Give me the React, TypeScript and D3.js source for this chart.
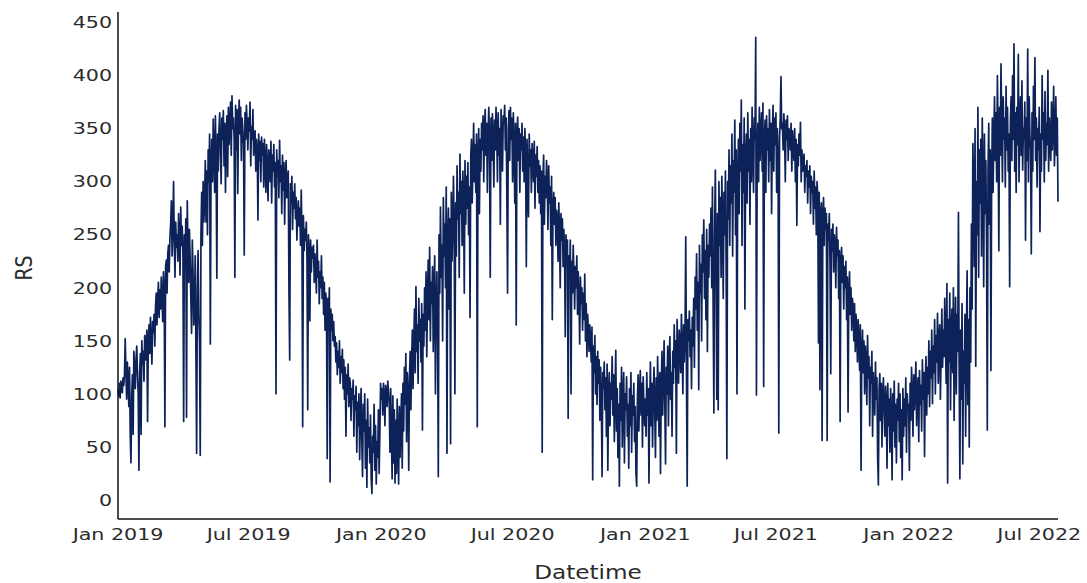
import React from "react";
import * as d3 from "d3";

// Daily RS readings, one array per calendar year (first value = 1 January).
const rs2019 = [
  104, 98, 110, 96, 112, 106, 101, 115, 108, 118,
  152, 120, 95, 130, 112, 88, 125, 60, 35, 98,
  118, 62, 140, 125, 105, 132, 145, 118, 100, 28,
  120, 138, 62, 150, 128, 140, 112, 155, 132, 145,
  160, 74, 148, 165, 138, 172, 150, 128, 168, 158,
  175, 145, 182, 195, 165, 188, 205, 172, 198, 180,
  210, 190, 168, 215, 200, 69, 220, 226, 195, 232,
  240, 215, 248, 260, 282, 230, 255, 300, 245, 210,
  262, 238, 250, 225, 270, 248, 212, 276, 240, 258,
  232, 74, 250, 218, 265, 78, 282, 235, 205, 255,
  228, 190, 157, 245, 215, 165, 180, 230, 140, 44,
  200, 235, 175, 150, 42, 250, 290, 240, 300, 262,
  280, 320, 262, 310, 250, 330, 300, 345, 147, 318,
  340, 300, 359, 330, 290, 362, 320, 209, 345, 310,
  350, 365, 330, 298, 360, 340, 367, 315, 355, 290,
  345, 362, 305, 370, 335, 355, 375, 325, 381, 350,
  360, 340, 210, 372, 330, 368, 289, 355, 377, 345,
  370, 320, 360, 350, 335, 231, 365, 340, 372, 355,
  330, 360, 348, 375, 315, 352, 340, 368, 325, 345,
  348, 310, 340, 330, 264, 345, 320, 338, 300, 342,
  325, 336, 295, 340, 318, 290, 335, 310, 282, 330,
  322, 300, 338, 280, 325, 310, 335, 295, 318, 100,
  330, 305, 320, 285, 339, 300, 315, 270, 325, 292,
  318, 260, 305, 320, 285, 300, 310, 195, 132, 298,
  280, 305, 255, 290, 275, 298, 265, 285, 245, 270,
  282, 258, 275, 240, 292, 250, 69, 268, 235, 255,
  245, 262, 225, 85, 250, 232, 169, 245, 215, 238,
  228, 240, 205, 232, 218, 195, 245, 210, 225, 185,
  215, 200, 230, 190, 210, 175, 205, 160, 195, 185,
  39, 190, 170, 200, 17, 180, 160, 175, 150, 168,
  145, 154, 130, 148, 118, 140, 125, 150, 110, 135,
  120, 142, 105, 132, 95, 125, 60, 118, 100, 128,
  88, 115, 110, 75, 105, 95, 113, 60, 98, 85,
  107, 45, 92, 70, 100, 38, 80, 105, 55, 22,
  90, 65, 100, 30, 75, 12, 95, 50, 68, 35,
  80, 20, 6, 60, 45, 90, 28, 70, 15, 55,
  40, 85, 25, 65, 110,
];

const rs2020 = [
  95, 105, 80, 110, 98, 70, 108, 100, 88, 112,
  102, 90, 45, 105, 60, 20, 98, 35, 85, 16,
  75, 25, 95, 50, 15, 88, 40, 70, 100, 30,
  110, 65, 125, 90, 138, 55, 120, 100, 28, 115,
  140, 85, 130, 160, 105, 150, 180, 120, 201, 140,
  165, 110, 190, 150, 170, 130, 185, 66, 175, 145,
  200, 160, 215, 135, 190, 226, 170, 238, 150, 205,
  185, 220, 140, 198, 230, 100, 180, 215, 160, 22,
  250, 195, 276, 210, 240, 150, 285, 230, 260, 200,
  295, 44, 245, 275, 180, 265, 53, 290, 225, 255,
  305, 250, 100, 280, 230, 315, 265, 290, 210, 326,
  270, 300, 240, 310, 285, 195, 320, 260, 305, 275,
  318, 250, 295, 172, 325, 340, 280, 315, 355, 300,
  335, 290, 345, 69, 320, 350, 270, 340, 310, 355,
  330, 362, 300, 350, 368, 325, 355, 290, 345, 370,
  335, 210, 360, 320, 364, 340, 295, 358, 330, 370,
  345, 300, 365, 325, 350, 260, 368, 340, 310, 362,
  355, 372, 330, 360, 290, 195, 350, 367, 320, 370,
  340, 360, 300, 365, 335, 280, 355, 165, 345, 361,
  320, 350, 290, 345, 330, 355, 310, 342, 300, 350,
  325, 220, 340, 300, 267, 345, 315, 330, 290, 336,
  320, 300, 338, 275, 325, 305, 333, 290, 320, 280,
  315, 270, 310, 45, 300, 325, 260, 305, 285, 320,
  300, 255, 315, 280, 295, 240, 305, 170, 275, 290,
  260, 285, 240, 273, 265, 225, 280, 250, 200, 270,
  245, 265, 220, 255, 235, 154, 250, 225, 245, 77,
  230, 210, 245, 100, 225, 195, 240, 213, 180, 220,
  200, 230, 175, 215, 190, 147, 210, 185, 200, 160,
  195, 170, 213, 150, 185, 135, 175, 160, 140, 165,
  150, 130, 163, 19, 145, 120, 155, 100, 135, 90,
  140, 110, 132, 75, 125, 95, 22, 120, 105, 130,
  85, 115, 60, 128, 28, 100, 120, 70, 110, 95,
  135, 80, 118, 55, 100, 141, 65, 105, 40, 90,
  13, 110, 75, 125, 50, 95, 120, 35, 100, 85,
  116, 60, 90, 30, 105, 70, 120, 45, 98, 80,
  110, 55, 88, 25, 13, 95, 118, 65, 100, 122,
  80, 110, 50, 116, 90, 70,
];

const rs2021 = [
  95, 60, 120, 80, 105, 16, 90, 130, 70, 110,
  50, 100, 125, 85, 40, 115, 75, 135, 95, 60,
  120, 25, 105, 140, 80, 115, 150, 90, 34, 125,
  100, 145, 70, 130, 154, 95, 120, 60, 140, 110,
  165, 125, 150, 44, 170, 135, 110, 160, 145, 120,
  175, 140, 100, 165, 130, 155, 248, 120, 13, 170,
  150, 178, 135, 160, 105, 172, 145, 190, 125, 210,
  180, 232, 160, 205, 104, 240, 195, 222, 150, 250,
  215, 264, 190, 235, 170, 255, 140, 240, 210, 260,
  230, 275, 200, 295, 180, 82, 250, 311, 220, 95,
  270, 85, 300, 240, 285, 210, 305, 260, 190, 290,
  250, 310, 220, 39, 300, 265, 330, 240, 315, 280,
  345, 230, 320, 290, 358, 250, 330, 100, 300, 340,
  270, 355, 310, 377, 240, 335, 290, 360, 180, 320,
  345, 280, 365, 310, 340, 260, 350, 300, 370, 325,
  290, 360, 340, 436, 99, 330, 355, 300, 370, 320,
  345, 365, 310, 374, 107, 340, 358, 290, 362, 330,
  350, 300, 368, 320, 355, 270, 345, 372, 310, 360,
  335, 365, 290, 350, 320, 63, 340, 360, 399, 350,
  355, 330, 364, 345, 300, 358, 340, 362, 320, 350,
  345, 330, 355, 310, 348, 335, 320, 350, 300, 340,
  259, 335, 315, 345, 325, 356, 300, 330, 310, 320,
  326, 290, 315, 305, 320, 280, 310, 295, 315, 270,
  305, 290, 300, 260, 310, 275, 295, 250, 300, 285,
  148, 290, 104, 270, 280, 56, 265, 285, 240, 275,
  255, 270, 56, 260, 245, 270, 220, 119, 255, 235,
  260, 215, 250, 240, 200, 257, 230, 245, 190, 235,
  74, 225, 238, 205, 230, 180, 220, 200, 225, 170,
  210, 83, 195, 215, 175, 200, 160, 190, 182, 150,
  185, 140, 175, 160, 130, 170, 150, 122, 165, 28,
  140, 160, 120, 150, 100, 145, 130, 90, 155, 115,
  135, 70, 125, 110, 140, 60, 120, 100, 80, 130,
  95, 115, 40, 14, 105, 119, 75, 110, 50, 100,
  115, 85, 60, 107, 90, 30, 110, 70, 95, 45,
  105, 80, 19, 100, 65, 112, 50, 90, 35, 95,
  75, 110, 55, 100, 40, 85, 19, 105, 60, 95,
  70, 115, 45, 100, 85,
];

const rs2022 = [
  90, 28, 110, 75, 125, 95, 60, 118, 85, 105,
  130, 70, 100, 115, 55, 122, 90, 108, 65, 132,
  95, 120, 41, 110, 135, 80, 125, 100, 150, 88,
  140, 115, 160, 91, 145, 120, 170, 100, 155, 130,
  176, 110, 150, 165, 95, 140, 180, 125, 160, 135,
  190, 150, 110, 204, 16, 170, 130, 195, 85, 160,
  180, 120, 200, 75, 150, 191, 100, 175, 140, 271,
  120, 20, 160, 95, 185, 34, 140, 110, 175, 60,
  150, 216, 90, 170, 50, 200, 130, 260, 180, 336,
  290, 220, 350, 126, 300, 250, 370, 210, 330, 280,
  340, 230, 360, 300, 201, 345, 270, 320, 240, 66,
  310, 355, 260, 330, 122, 300, 360, 290, 340, 380,
  320, 365, 300, 400, 340, 235, 370, 325, 411, 350,
  300, 380, 340, 360, 295, 390, 330, 370, 310, 345,
  201, 355, 380, 320, 400, 340, 430, 310, 365, 290,
  370, 335, 420, 300, 355, 380, 325, 395, 311, 350,
  340, 375, 245, 360, 320, 425, 300, 380, 345, 330,
  232, 365, 310, 390, 340, 417, 320, 360, 295, 350,
  330, 370, 253, 345, 310, 400, 340, 365, 300, 385,
  320, 355, 335, 405, 310, 360, 340, 320, 375, 330,
  350, 390, 315, 340, 380, 325, 360, 281,
];

const yearStarts = [2019, 2020, 2021, 2022];
const yearSeries = [rs2019, rs2020, rs2021, rs2022];

const yTicks = [0, 50, 100, 150, 200, 250, 300, 350, 400, 450];
const xTicks = [
  new Date(2019, 0, 1), new Date(2019, 6, 1),
  new Date(2020, 0, 1), new Date(2020, 6, 1),
  new Date(2021, 0, 1), new Date(2021, 6, 1),
  new Date(2022, 0, 1), new Date(2022, 6, 1),
];

const xTitle = "Datetime";
const yTitle = "RS";

type Point = { date: Date; value: number };

const points: Point[] = yearSeries.flatMap((vals, k) => {
  const start = new Date(yearStarts[k], 0, 1);
  return vals.map((v, i) => ({ date: d3.timeDay.offset(start, i), value: v }));
});

const W = 1087;
const H = 583;
const plot = { left: 118, right: 1058, top: 12, bottom: 519 };

const FONT = "'DejaVu Sans', Verdana, sans-serif";
const TEXT = "#2b2b2b";
const LINE = "#0d2258";
const STRETCH = 1.25;

export default function App() {
  const x = d3
    .scaleTime()
    .domain(d3.extent(points, (d) => d.date) as [Date, Date])
    .range([plot.left, plot.right]);
  const y = d3.scaleLinear().domain([-18, 460]).range([plot.bottom, plot.top]);

  const path = d3
    .line<Point>()
    .x((d) => x(d.date))
    .y((d) => y(d.value))(points) as string;

  const fmt = d3.timeFormat("%b %Y");

  return (
    <div style={{ position: "absolute", left: 0, top: 0 }}>
      <svg width={W} height={H} style={{ display: "block", background: "#fff" }}>
        <path d={path} fill="none" stroke={LINE} strokeWidth={1.7} strokeLinejoin="round" />

        <line x1={plot.left} x2={plot.left} y1={plot.top} y2={plot.bottom} stroke="#111" strokeWidth={1.5} />
        <line x1={plot.left} x2={plot.right} y1={plot.bottom} y2={plot.bottom} stroke="#111" strokeWidth={1.5} />

        {yTicks.map((t) => (
          <text
            key={t}
            transform={`translate(${plot.left - 6},${y(t)}) scale(${STRETCH},1)`}
            textAnchor="end"
            dominantBaseline="central"
            fontFamily={FONT}
            fontSize={16.5}
            fill={TEXT}
          >
            {t}
          </text>
        ))}

        {xTicks.map((t) => (
          <text
            key={t.getTime()}
            transform={`translate(${x(t)},${plot.bottom + 21}) scale(${STRETCH},1)`}
            textAnchor="middle"
            fontFamily={FONT}
            fontSize={16.5}
            fill={TEXT}
          >
            {fmt(t)}
          </text>
        ))}

        <text
          transform={`translate(${(plot.left + plot.right) / 2},${579}) scale(1.22,1)`}
          textAnchor="middle"
          fontFamily={FONT}
          fontSize={19}
          fill={TEXT}
        >
          {xTitle}
        </text>
        <text
          transform={`translate(${32},${268}) rotate(-90) scale(1,1.22)`}
          textAnchor="middle"
          fontFamily={FONT}
          fontSize={19}
          fill={TEXT}
        >
          {yTitle}
        </text>
      </svg>
    </div>
  );
}
